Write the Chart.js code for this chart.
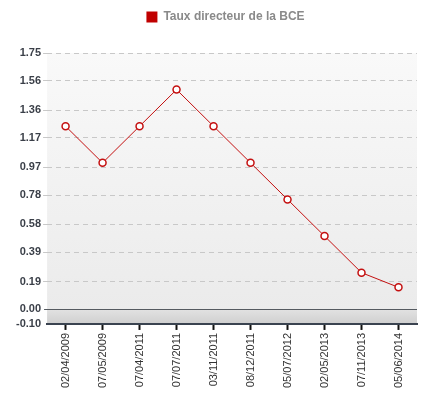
<!DOCTYPE html>
<html>
<head>
<meta charset="utf-8">
<script src="https://cdn.jsdelivr.net/npm/chart.js@4"></script>
<style>
    html, body { margin: 0; padding: 0; background: #fff; }
    #wrap { width: 435px; height: 396px; }
</style>
</head>
<body>
<div id="wrap"><canvas id="rateChart"></canvas></div>
<script>
const dates = ['02/04/2009', '07/05/2009', '07/04/2011', '07/07/2011', '03/11/2011',
    '08/12/2011', '05/07/2012', '02/05/2013', '07/11/2013', '05/06/2014'];
const rates = [1.25, 1.00, 1.25, 1.50, 1.25, 1.00, 0.75, 0.50, 0.25, 0.15];
const yTicks = [-0.10, 0.00, 0.19, 0.39, 0.58, 0.78, 0.97, 1.17, 1.36, 1.56, 1.75];

// plot background: light gradient above zero, darker band below, solid zero line
const bgPlugin = {
    id: 'bg',
    beforeInit(chart) {
        // extra space between legend and plot, legend nudged right
        const legend = chart.legend;
        const fit = legend.fit;
        legend.fit = function () {
            fit.bind(legend)();
            this.height += 21;
        };
        const draw = legend.draw;
        legend.draw = function () {
            chart.ctx.save();
            chart.ctx.translate(10, 1);
            draw.bind(legend)();
            chart.ctx.restore();
        };
    },
    beforeDraw(chart) {
        const { ctx, chartArea: a, scales } = chart;
        const zero = scales.y.getPixelForValue(0);
        ctx.save();
        let g = ctx.createLinearGradient(0, a.top, 0, zero);
        g.addColorStop(0, '#f9f9f9');
        g.addColorStop(1, '#ebebeb');
        ctx.fillStyle = g;
        ctx.fillRect(a.left, a.top, a.right - a.left, zero - a.top);
        g = ctx.createLinearGradient(0, zero, 0, a.bottom);
        g.addColorStop(0, '#e2e2e2');
        g.addColorStop(1, '#cfcfcf');
        ctx.fillStyle = g;
        ctx.fillRect(a.left, zero, a.right - a.left, a.bottom - zero);
        ctx.restore();
    },
    beforeDatasetsDraw(chart) {
        const { ctx, chartArea: a, scales } = chart;
        const zero = Math.round(scales.y.getPixelForValue(0)) + 0.5;
        ctx.save();
        ctx.strokeStyle = '#555a60';
        ctx.lineWidth = 1;
        ctx.beginPath();
        ctx.moveTo(a.left - 3, zero);
        ctx.lineTo(a.right, zero);
        ctx.stroke();
        ctx.restore();
    }
};

const ctx = document.getElementById('rateChart').getContext('2d');

new Chart(ctx, {
    type: 'line',
    data: {
        labels: dates,
        datasets: [{
            label: 'Taux directeur de la BCE',
            data: rates,
            borderColor: '#c41010',
            backgroundColor: '#c00000',
            borderWidth: 1,
            pointRadius: 3.5,
            pointBorderWidth: 1.5,
            pointBackgroundColor: '#ffffff',
            pointBorderColor: '#c41010'
        }]
    },
    options: {
        responsive: true,
        maintainAspectRatio: false,
        animation: false,
        layout: { padding: { left: 14, right: 18, top: 0, bottom: 5 } },
        plugins: {
            tooltip: { enabled: false },
            legend: {
                labels: {
                    boxWidth: 11,
                    boxHeight: 11,
                    color: '#8a8a8a',
                    padding: 10,
                    font: { family: 'Arial, Liberation Sans', size: 12, weight: 'bold' },
                    generateLabels: chart => [{
                        text: 'Taux directeur de la BCE',
                        fillStyle: '#c00000',
                        strokeStyle: '#c00000',
                        lineWidth: 0,
                        fontColor: '#8a8a8a'
                    }]
                }
            }
        },
        scales: {
            x: {
                offset: true,
                grid: {
                    drawOnChartArea: false,
                    tickLength: 6,
                    tickColor: '#111',
                    tickWidth: 2,
                    offset: false
                },
                border: { color: '#3a4350', width: 2 },
                ticks: {
                    minRotation: 90,
                    maxRotation: 90,
                    color: '#333',
                    padding: 3,
                    font: { family: 'Arial, Liberation Sans', size: 11 }
                }
            },
            y: {
                min: -0.10,
                max: 1.75,
                afterBuildTicks: axis => {
                    axis.ticks = yTicks.map(v => ({ value: v }));
                },
                grid: {
                    color: c => c.tick && (c.tick.value === 0 || c.tick.value === -0.10) ? 'rgba(0,0,0,0)' : '#c8c8c8',
                    lineWidth: 1,
                    tickLength: 4
                },
                border: { display: false, dash: [5, 4] },
                ticks: {
                    color: '#3a3f48',
                    padding: 2,
                    font: { family: 'Arial, Liberation Sans', size: 11, weight: 'bold' },
                    callback: v => v.toFixed(2)
                }
            }
        }
    },
    plugins: [bgPlugin]
});
</script>
</body>
</html>
